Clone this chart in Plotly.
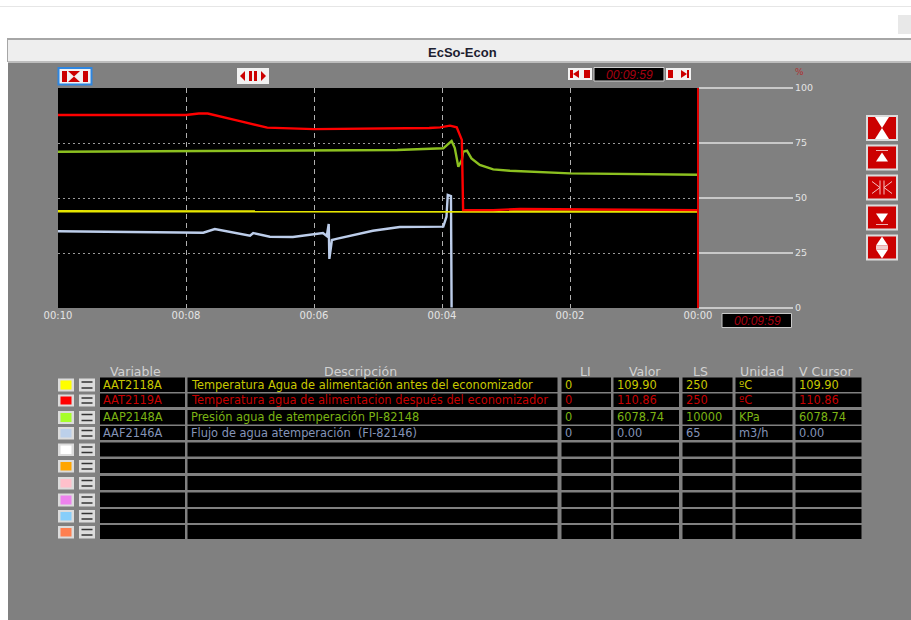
import plotly.graph_objects as go

# ---- data ----
yellow_t = [10, 5.5, 0]
yellow_v = [44.0, 43.9, 43.8]
red_t = [10, 8.0, 7.8, 7.66, 7.19, 6.73, 6.0, 5.0, 4.2, 4.03, 3.875, 3.77, 3.69, 3.67, 3.2, 2.78, 1.53, 0]
red_v = [87.7, 87.7, 88.4, 88.4, 85.2, 82.0, 81.3, 81.4, 81.8, 82.1, 82.9, 82.1, 76.4, 44.5, 44.5, 45.0, 44.8, 44.5]
green_t = [10, 8, 6, 4.7, 3.98, 3.85, 3.8, 3.745, 3.69, 3.67, 3.61, 3.54, 3.41, 3.2, 2.94, 2, 0]
green_v = [71.0, 71.2, 71.4, 71.8, 72.6, 75.9, 72.7, 64.2, 67.3, 71.0, 71.5, 68.0, 65.0, 63.0, 62.4, 61.2, 60.6]
blue_t = [10, 8.0, 7.73, 7.55, 7.0, 6.95, 6.69, 6.33, 5.86, 5.8, 5.77, 5.76, 5.72, 5.65, 5.08, 4.66, 3.98, 3.93, 3.91, 3.86, 3.85]
blue_v = [34.9, 34.2, 34.2, 35.9, 32.9, 34.1, 32.4, 32.3, 34.1, 32.7, 38.2, 22.3, 30.9, 31.4, 35.1, 36.8, 37.0, 41.5, 51.4, 50.9, 0.2]

x_ticks = [10, 8, 6, 4, 2, 0]
x_labels = ["00:10", "00:08", "00:06", "00:04", "00:02", "00:00"]
y_ticks = [0, 25, 50, 75, 100]

headers = ["Variable", "Descripción", "LI", "Valor", "LS", "Unidad", "V Cursor"]
variables = ["AAT2118A", "AAT2119A", "AAP2148A", "AAF2146A"]
descriptions = ["Temperatura Agua de alimentación antes del economizador",
                "Temperatura agua de alimentacion después del economizador",
                "Presión agua de atemperación PI-82148",
                "Flujo de agua atemperación  (FI-82146)"]
li = ["0", "0", "0", "0"]
valor = ["109.90", "110.86", "6078.74", "0.00"]
ls = ["250", "250", "10000", "65"]
unidad = ["ºC", "ºC", "KPa", "m3/h"]
cursor = ["109.90", "110.86", "6078.74", "0.00"]
swatches = ["#ffff00", "#ff0000", "#a6ff2a", "#bcd0ea", "#ffffff", "#ffa500", "#ffc0cb", "#ee82ee", "#87cefa", "#ff7f50"]
text_colors = ["#c8c800", "#c80000", "#7cb414", "#8494b8"]

# ---- layout helpers (pixels of the page -> paper coordinates) ----
W, H = 911, 620
L, R, T, B = 58, 698, 88, 308
def X(p): return (p - L) / (R - L)
def Y(p): return (B - p) / (B - T)

shapes, notes = [], []
def rect(x0, y0, x1, y1, fill, line=None, lw=1, layer="above"):
    shapes.append(dict(type="rect", xref="paper", yref="paper", x0=X(x0), x1=X(x1), y0=Y(y0), y1=Y(y1),
                       fillcolor=fill, line=dict(color=line or fill, width=lw if line else 0), layer=layer))
def poly(pts, fill):
    d = "M" + " L".join(f"{X(a):.5f},{Y(b):.5f}" for a, b in pts) + " Z"
    shapes.append(dict(type="path", xref="paper", yref="paper", path=d, fillcolor=fill, line=dict(width=0)))
def seg(x0, y0, x1, y1, color, w=1):
    shapes.append(dict(type="line", xref="paper", yref="paper", x0=X(x0), x1=X(x1), y0=Y(y0), y1=Y(y1),
                       line=dict(color=color, width=w)))
def hline(x0, x1, y, color, w=1):
    seg(x0, y, x1, y, color, w)
def text(x, y, s, color, size=11, anchor="left", fam="DejaVu Sans"):
    notes.append(dict(xref="paper", yref="paper", x=X(x), y=Y(y), text=s, showarrow=False, xanchor=anchor,
                      yanchor="middle", font=dict(color=color, size=size, family=fam)))

RED, WH = "#cc0000", "#f2f2f2"
# page chrome
rect(0, 0, W, 38, "#ffffff", layer="below")
rect(0, 38, 8, H, "#ffffff", layer="below")
hline(0, W, 6.5, "#e6e6e6", 1)
rect(898, 15, W, 34, "#e8e8e8", layer="below")
rect(7, 38, W, 40, "#a6a6a6", layer="below")
rect(8, 40, W, 62, "#eeeeee", layer="below")
rect(7, 40, 8, 62, "#a6a6a6", layer="below")
rect(8, 61, W, 63, "#bdbdbd", layer="below")
text(462, 52, "<b>EcSo-Econ</b>", "#1c2030", 13, "center", "Liberation Sans")

# top toolbar
rect(58.5, 68, 91.5, 84.5, WH, "#2f86e0", 2)
rect(62, 71, 67, 82, RED); rect(83, 71, 88, 82, RED)
poly([(68, 71), (80, 71), (74, 76.5)], RED); poly([(68, 82), (80, 82), (74, 76.5)], RED)
rect(237, 68, 269, 84, WH)
poly([(240, 76), (245, 71), (245, 81)], RED); poly([(266, 76), (261, 71), (261, 81)], RED)
rect(249, 71, 252, 81, RED); rect(254, 71, 257, 81, RED)
rect(568, 68, 592, 80, WH)
rect(570, 70, 573, 78, RED); poly([(573, 74), (579, 70), (579, 78)], RED); rect(584, 70, 590, 78, RED)
rect(594, 67.5, 664, 81, "#000000", "#d0d0d0", 1)
text(629, 74.5, "<i>00:09:59</i>", "#a80010", 12, "center", "Liberation Sans")
rect(666, 68, 691, 80, WH)
rect(668, 70, 673, 78, RED); poly([(687, 74), (681, 70), (681, 78)], RED); rect(687, 70, 689, 78, RED)
text(799, 72, "%", "#b03030", 9, "center")

# cursor timer under the plot
rect(722, 313.5, 791.5, 327.5, "#000000", "#c8c8c8", 1)
text(757, 320.5, "<i>00:09:59</i>", "#a80010", 12, "center", "Liberation Sans")

# right hand buttons
for i, y0 in enumerate([116, 145.5, 175.5, 205.5, 235.5]):
    x0, x1, y1 = 867, 897, y0 + 24
    cx, cy = (x0 + x1) / 2, (y0 + y1) / 2
    rect(x0, y0, x1, y1, RED, "#dcdcdc", 2)
    if i == 0:
        poly([(cx - 7, y0 + 1), (cx + 7, y0 + 1), (cx, cy)], "#ffffff")
        poly([(cx - 7, y1 - 1), (cx + 7, y1 - 1), (cx, cy)], "#ffffff")
    elif i == 1:
        poly([(cx - 6, cy + 4), (cx + 6, cy + 4), (cx, cy - 5)], "#ffffff")
        hline(cx - 6, cx + 6, cy - 7, "#f0b0b0", 1)
    elif i == 2:
        seg(cx - 10, cy - 6, cx - 2, cy, "#f4c0c0", 1); seg(cx - 10, cy + 6, cx - 2, cy, "#f4c0c0", 1)
        seg(cx + 10, cy - 6, cx + 2, cy, "#f4c0c0", 1); seg(cx + 10, cy + 6, cx + 2, cy, "#f4c0c0", 1)
        seg(cx - 2, cy - 7, cx - 2, cy + 7, "#f4c0c0", 1); seg(cx + 2, cy - 7, cx + 2, cy + 7, "#f4c0c0", 1)
    elif i == 3:
        poly([(cx - 6, cy - 4), (cx + 6, cy - 4), (cx, cy + 5)], "#ffffff")
        hline(cx - 6, cx + 6, cy + 7, "#f0b0b0", 1)
    else:
        poly([(cx - 6, cy - 2), (cx + 6, cy - 2), (cx, cy - 11)], "#ffffff")
        poly([(cx - 6, cy + 2), (cx + 6, cy + 2), (cx, cy + 11)], "#ffffff")
        rect(cx - 6, cy - 2, cx + 6, cy + 2, "#f0d0d0")

# table
col_edges = [(100, 185), (187.5, 557.5), (561.5, 611), (613.5, 679), (682.5, 732.5), (735.5, 792.5), (795.5, 861.5)]
header_x = [135, 360, 585, 645, 700, 762, 826]
rows = [(377.5, 392), (393.5, 407), (410, 424.5), (426, 440), (442.5, 456.5),
        (459, 473), (476, 490), (492.5, 507), (509, 523), (525, 539)]
for hx, h in zip(header_x, headers):
    text(hx, 371, h, "#d2d2d2", 12.5, "center")
for (y0, y1), c in zip(rows, swatches):
    rect(58, y0 + 1, 74, y1 - 0.5, "#dcdcdc")
    rect(60.5, y0 + 3, 71.5, y1 - 2.5, c)
    rect(79, y0 + 1, 95, y1 - 0.5, "#dcdcdc")
    hline(81.5, 92.5, y0 + 4.5, "#333333", 1.5)
    hline(81.5, 92.5, y1 - 4, "#333333", 1.5)
    for a, b in col_edges:
        rect(a, y0, b, y1, "#000000")
columns = [variables, descriptions, li, valor, ls, unidad, cursor]
for r in range(4):
    ym = (rows[r][0] + rows[r][1]) / 2
    for (a, _), col in zip(col_edges, columns):
        text(a + 1, ym, col[r], text_colors[r], 11.4)

# ---- chart ----
fig = go.Figure()
for t, v, c, n in [(blue_t, blue_v, "#bccdea", "AAF2146A"), (green_t, green_v, "#8cc020", "AAP2148A"),
                   (yellow_t, yellow_v, "#e6e600", "AAT2118A"), (red_t, red_v, "#ff0000", "AAT2119A")]:
    fig.add_trace(go.Scatter(x=t, y=v, mode="lines", name=n, line=dict(color=c, width=2.4), cliponaxis=True))

shapes.append(dict(type="line", xref="paper", yref="paper", x0=1, x1=1, y0=0, y1=1, line=dict(color="#e00000", width=2)))

fig.update_layout(
    width=W, height=H, margin=dict(l=L, r=W - R, t=T, b=H - B), autosize=False,
    paper_bgcolor="#808080", plot_bgcolor="#000000", showlegend=False, shapes=shapes, annotations=notes,
    xaxis=dict(range=[10, 0], tickvals=x_ticks, ticktext=x_labels, showgrid=True, gridcolor="#b0b0b0", griddash="5px,4px",
               gridwidth=1, zeroline=False, ticks="", showline=False,
               tickfont=dict(family="DejaVu Sans", size=10, color="#e4e4e4")),
    yaxis=dict(range=[0, 100], side="right", tickvals=y_ticks, showgrid=True, gridcolor="#9a9a9a", griddash="2px,3px",
               gridwidth=1, zeroline=False, ticks="outside", ticklen=94, tickwidth=2, tickcolor="#c8c8c8",
               showline=False, tickfont=dict(family="DejaVu Sans", size=9.5, color="#e4e4e4")),
)
fig.write_html("out.html", config=dict(displayModeBar=False),
               post_script="document.body.style.margin='0';document.body.style.overflow='hidden';")
